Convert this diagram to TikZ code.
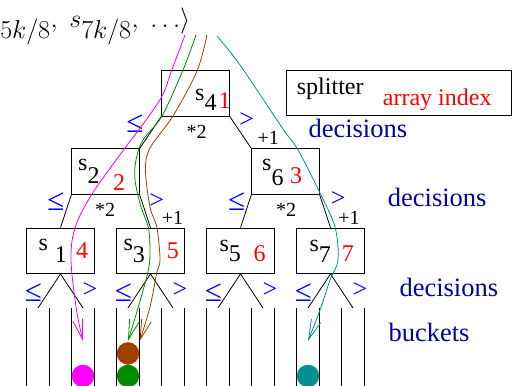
\RequirePackage{fix-cm}
\documentclass[tikz,border=0pt]{standalone}
\usepackage{fontspec}
\setmainfont{Liberation Serif}
\usetikzlibrary{arrows.meta,calc}
\definecolor{pathmag}{HTML}{FF00FF}
\definecolor{pathgreen}{HTML}{008C00}
\definecolor{pathbrown}{HTML}{A04000}
\definecolor{pathteal}{HTML}{009090}
\definecolor{decblue}{HTML}{0000FF}
\definecolor{navy}{HTML}{00009C}
\definecolor{idxred}{HTML}{FF0000}

\begin{document}
\begin{tikzpicture}[x=1pt, y=-1pt,
  splitbox/.style={draw, line width=0.8pt, minimum width=67.5pt,
                   minimum height=45.5pt, inner sep=0pt},
  sname/.style={anchor=base west, inner sep=0pt, font=\fontsize{24}{28}\selectfont},
  idx/.style={sname, text=idxred},
  dec/.style={inner sep=0pt, text=decblue, font=\fontsize{26}{30}\selectfont},
  leq/.style={dec, font=\fontsize{31}{34}\selectfont},
  op/.style={inner sep=0pt, font=\fontsize{20}{24}\selectfont},
  note/.style={anchor=base west, inner sep=0pt, text=navy,
               font=\fontsize{26.5}{30}\selectfont},
  link/.style={line width=0.8pt},
  flow/.style={draw=#1, line width=0.8pt,
               -{Straight Barb[length=20pt,width=10pt]}},
  ball/.style={circle, fill=#1, minimum size=22.5pt, inner sep=0pt},
]
\useasboundingbox (0,0) rectangle (513,385);
\clip (0,0) rectangle (513,385);

% splitter array
\node[anchor=base east, inner sep=0pt, font=\fontsize{26}{30}\selectfont] (seq)
  at (190.5,28) {$s_{\textstyle 5k/8},\;s_{\textstyle 7k/8},\;\ldots\rangle$};

% tree of splitters
\node[splitbox] (s4) at (195.5,93.2) {};
\node[splitbox] (s2) at (105.5,171.6) {};
\node[splitbox] (s6) at (285.5,171.6) {};
\node[splitbox] (s1) at (60.5,250.8) {};
\node[splitbox] (s3) at (150.5,250.8) {};
\node[splitbox] (s5) at (240.5,250.8) {};
\node[splitbox] (s7) at (330.5,250.8) {};

\node[sname] (s4n) at (195,100) {s\raisebox{-10.7pt}{4}};
\node[idx]   (s4i) at (218.5,108.3) {1};
\node[sname] (s2n) at (78,170) {s\raisebox{-13.3pt}{2}};
\node[idx]   (s2i) at (113,190) {2};
\node[sname] (s6n) at (262,170) {s\raisebox{-15pt}{6}};
\node[idx]   (s6i) at (290,183.3) {3};
\node[sname] (s1n) at (38.3,250) {s\hspace{7pt}\raisebox{-12pt}{1}};
\node[idx]   (s1i) at (76,258) {4};
\node[sname] (s3n) at (123.3,250) {s\raisebox{-12pt}{3}};
\node[idx]   (s3i) at (166.7,258) {5};
\node[sname] (s5n) at (219.3,251.7) {s\raisebox{-10pt}{5}};
\node[idx]   (s5i) at (253.3,261.7) {6};
\node[sname] (s7n) at (309.3,251.7) {s\raisebox{-10.3pt}{7}};
\node[idx]   (s7i) at (341.7,261.7) {7};

\draw[link] (s4.south west) -- (s2.north east);
\draw[link] (s4.south east) -- (s6.north west);
\draw[link] (s2.south west) -- (s1.north);
\draw[link] (s2.south east) -- (s3.north);
\draw[link] (s6.south west) -- (s5.north);
\draw[link] (s6.south east) -- (s7.north);

% decisions and index arithmetic
\node[leq] (d4l) at (135,123.3) {≤};
\node[dec] (d4r) at (246.7,120) {>};
\node[leq] (d2l) at (55.8,201.7) {≤};
\node[dec] (d2r) at (156.7,200.8) {>};
\node[leq] (d6l) at (236.7,201.7) {≤};
\node[dec] (d6r) at (338.3,199) {>};
\node[op] (m4) at (196.7,131.7) {*2};
\node[op] (p4) at (268.3,137.5) {+1};
\node[op] (m2) at (105,210) {*2};
\node[op] (p2) at (172.5,218) {+1};
\node[op] (m6) at (286,210) {*2};
\node[op] (p6) at (349,218.3) {+1};

% leaves and buckets
\foreach \n in {s1,s3,s5,s7}{
  \draw[link] (\n.south) -- ++(-22.5,34) coordinate (\n-l);
  \draw[link] (\n.south) -- ++(22.5,34) coordinate (\n-r);
  \node[leq] (\n-dl) at ($(\n.south)+(-27.2,18.4)$) {≤};
  \node[dec] (\n-dr) at ($(\n.south)+(29.5,15.7)$) {>};
  \foreach \d in {-11.25,11.25,33.75,56.25}
    \draw[link] (\n-l) ++(\d,0) -- ++(0,80);
}

\node[ball=pathmag]   (bm) at ($(s1-r)+(0,68)$) {};
\node[ball=pathgreen] (bg) at ($(s3-l)+(0,68)$) {};
\node[ball=pathbrown] (bb) at ($(s3-l)+(0,45.5)$) {};
\node[ball=pathteal]  (bt) at ($(s7-l)+(0,68)$) {};

% legend
\node[splitbox, minimum width=225pt] (key) at (398.5,93.1) {};
\node[sname] (keys) at (296.7,95) {splitter};
\node[idx] (keyi) at (382.7,106) {array index};
\node[note] (dec1) at (308.3,137) {decisions};
\node[note] (dec2) at (387.7,206) {decisions};
\node[note] (dec3) at (399.3,296.7) {decisions};
\node[note] (bkt) at (388.3,341.7) {buckets};

% elements falling into buckets
\coordinate (m0) at (185,35);
\coordinate (g0) at (196,35);
\coordinate (b0) at (207,35);
\coordinate (t0) at (217,36);
\coordinate (mtip) at ($(s1-r)+(0,33)$);
\coordinate (gtip) at ($(s3-l)+(0,33)$);
\coordinate (btip) at ($(s3-l)+(11.7,33)$);
\coordinate (ttip) at ($(s7-l)+(0,33)$);
\draw[flow=pathmag] plot[smooth, tension=0.55] coordinates
  {(m0) (171.7,70.3) (161.7,96.7) (140,128.3) (125,148) (92,194) (75,228)
   (71,260) (76.5,310) (mtip)};
\draw[flow=pathgreen] plot[smooth, tension=0.55] coordinates
  {(g0) (183,70) (162,116) (143,140) (136,160) (135,180) (141,207)
   (148.5,228) (150,255) (147.7,273) (138.3,307) (gtip)};
\draw[flow=pathbrown] plot[smooth, tension=0.55] coordinates
  {(b0) (197,71) (173,116) (150,148) (145.5,170) (150,207) (157,228)
   (160,260) (156.7,273) (150,307) (btip)};
\draw[flow=pathteal] plot[smooth, tension=0.55] coordinates
  {(t0) (240,65) (283,129) (298,150) (320,193) (335,227) (338,260)
   (330,280) (320,310) (ttip)};
\end{tikzpicture}
\end{document}
